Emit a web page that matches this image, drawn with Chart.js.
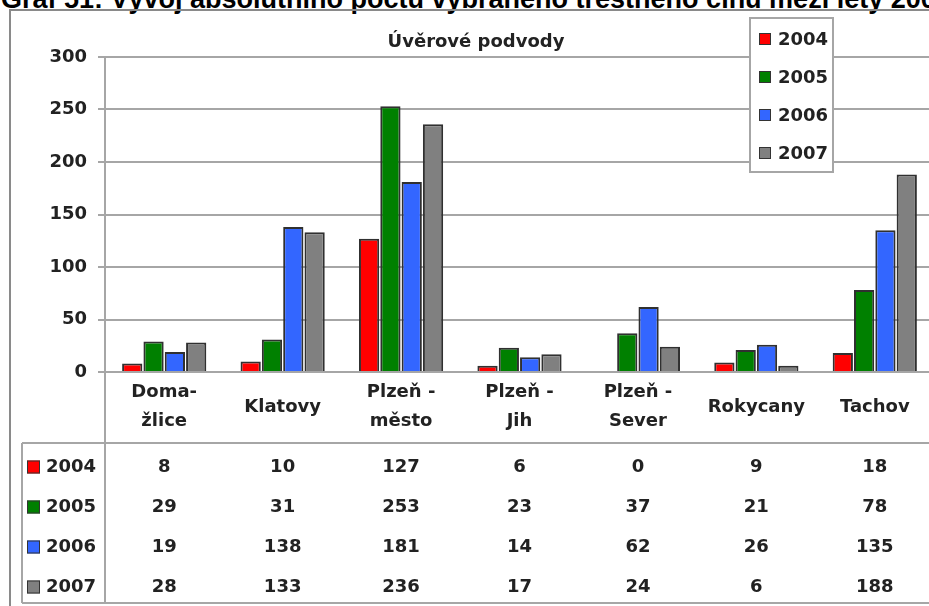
<!DOCTYPE html>
<html>
<head>
<meta charset="utf-8">
<script src="https://cdn.jsdelivr.net/npm/chart.js@4/dist/chart.umd.min.js"></script>
<style>
html,body{margin:0;padding:0;background:#fff;overflow:hidden;}
#wrap{position:relative;width:929px;height:606px;overflow:hidden;background:#fff;}
#title{position:absolute;left:1px;top:-16px;line-height:27px;font:bold 27px "Liberation Sans",Arial,sans-serif;white-space:nowrap;color:#000;}
#frame{position:absolute;left:9px;top:9px;width:980px;height:660px;border:2px solid #8a8a8a;}
#c{position:absolute;left:0;top:0;}
</style>
</head>
<body>
<div id="wrap">
<div id="title">Graf 51: Vývoj absolutního počtu vybraného trestného činu mezi lety 2004</div>
<div id="frame"></div>
<canvas id="c" width="934" height="606"></canvas>
</div>
<script>
var chartTitle = "Úvěrové podvody";
var categories = [["Doma-","žlice"],["Klatovy"],["Plzeň -","město"],["Plzeň -","Jih"],["Plzeň -","Sever"],["Rokycany"],["Tachov"]];
var years = ["2004","2005","2006","2007"];
var v2004 = [8,10,127,6,0,9,18];
var v2005 = [29,31,253,23,37,21,78];
var v2006 = [19,138,181,14,62,26,135];
var v2007 = [28,133,236,17,24,6,188];
var colors = ["#ff0000","#008000","#3366ff","#808080"];
var yMin = 0, yMax = 300, yStep = 50;

var FONT = 'bold 18px "DejaVu Sans", Verdana, sans-serif';
var TXT = "#222222";
var LINE = "#a6a6a6";

var series = [v2004, v2005, v2006, v2007];
var datasets = [];
for (var i = 0; i < years.length; i++) {
	datasets.push({
		label: years[i],
		data: series[i],
		backgroundColor: colors[i],
		borderColor: "#303030",
		borderWidth: 2,
		categoryPercentage: 0.72,
		barPercentage: 0.95
	});
}

/**
 * nadpis, legenda, popisky kategorii a datova tabulka
 */
var extras = {
	id: "extras",
	afterDraw: function (chart) {
		var ctx = chart.ctx;
		var xs = chart.scales.x;
		var area = chart.chartArea;
		ctx.save();
		ctx.font = FONT;
		ctx.fillStyle = TXT;
		ctx.textBaseline = "middle";

		// nadpis grafu
		ctx.textAlign = "center";
		ctx.fillText(chartTitle, 476, 42);

		// legenda
		ctx.fillStyle = "#fff";
		ctx.fillRect(750, 18, 83, 154);
		ctx.strokeStyle = LINE;
		ctx.lineWidth = 2;
		ctx.strokeRect(750, 18, 83, 154);
		ctx.textAlign = "left";
		for (var i = 0; i < years.length; i++) {
			var ly = 39 + i * 38;
			ctx.fillStyle = colors[i];
			ctx.fillRect(759, ly - 6, 12, 12);
			ctx.strokeStyle = "#333";
			ctx.lineWidth = 1;
			ctx.strokeRect(759.5, ly - 5.5, 11, 11);
			ctx.fillStyle = TXT;
			ctx.fillText(years[i], 778, ly + 1);
		}

		// popisky kategorii
		ctx.textAlign = "center";
		for (var c = 0; c < categories.length; c++) {
			var cx = xs.getPixelForValue(c);
			var lines = categories[c];
			if (lines.length == 1) {
				ctx.fillText(lines[0], cx, 407);
			} else {
				ctx.fillText(lines[0], cx, 392);
				ctx.fillText(lines[1], cx, 421.5);
			}
		}

		// cary tabulky
		ctx.strokeStyle = LINE;
		ctx.lineWidth = 2;
		ctx.beginPath();
		ctx.moveTo(22, 443); ctx.lineTo(chart.width, 443);
		ctx.moveTo(22, 603); ctx.lineTo(chart.width, 603);
		ctx.moveTo(22, 443); ctx.lineTo(22, 603);
		ctx.moveTo(area.left, area.bottom); ctx.lineTo(area.left, 603);
		ctx.stroke();

		// radky tabulky
		for (var r = 0; r < years.length; r++) {
			var ry = 466.5 + r * 40;
			ctx.fillStyle = colors[r];
			ctx.fillRect(27, ry - 6, 13, 13);
			ctx.strokeStyle = "#333";
			ctx.lineWidth = 1;
			ctx.strokeRect(27.5, ry - 5.5, 12, 12);
			ctx.fillStyle = TXT;
			ctx.textAlign = "left";
			ctx.fillText(years[r], 46, ry + 1);
			ctx.textAlign = "center";
			for (var k = 0; k < categories.length; k++) {
				ctx.fillText(String(series[r][k]), xs.getPixelForValue(k), ry + 1);
			}
		}
		ctx.restore();
	}
};

var config = {
	type: "bar",
	data: {
		labels: categories,
		datasets: datasets
	},
	options: {
		responsive: false,
		animation: false,
		layout: { padding: { top: 57, bottom: 234, left: 0, right: 0 } },
		plugins: {
			legend: { display: false },
			title: { display: false },
			tooltip: { enabled: false }
		},
		scales: {
			x: { display: false },
			y: {
				min: yMin,
				max: yMax,
				afterFit: function (scale) { scale.width = 105; },
				ticks: {
					stepSize: yStep,
					padding: 11,
					color: TXT,
					font: { family: '"DejaVu Sans", Verdana, sans-serif', size: 18, weight: "bold" }
				},
				grid: { color: LINE, lineWidth: 2, tickLength: 7 },
				border: { display: true, color: LINE, width: 2 }
			}
		}
	},
	plugins: [extras]
};

var ctx1 = document.getElementById("c").getContext("2d");
window.myBar = new Chart(ctx1, config);
</script>
</body>
</html>
